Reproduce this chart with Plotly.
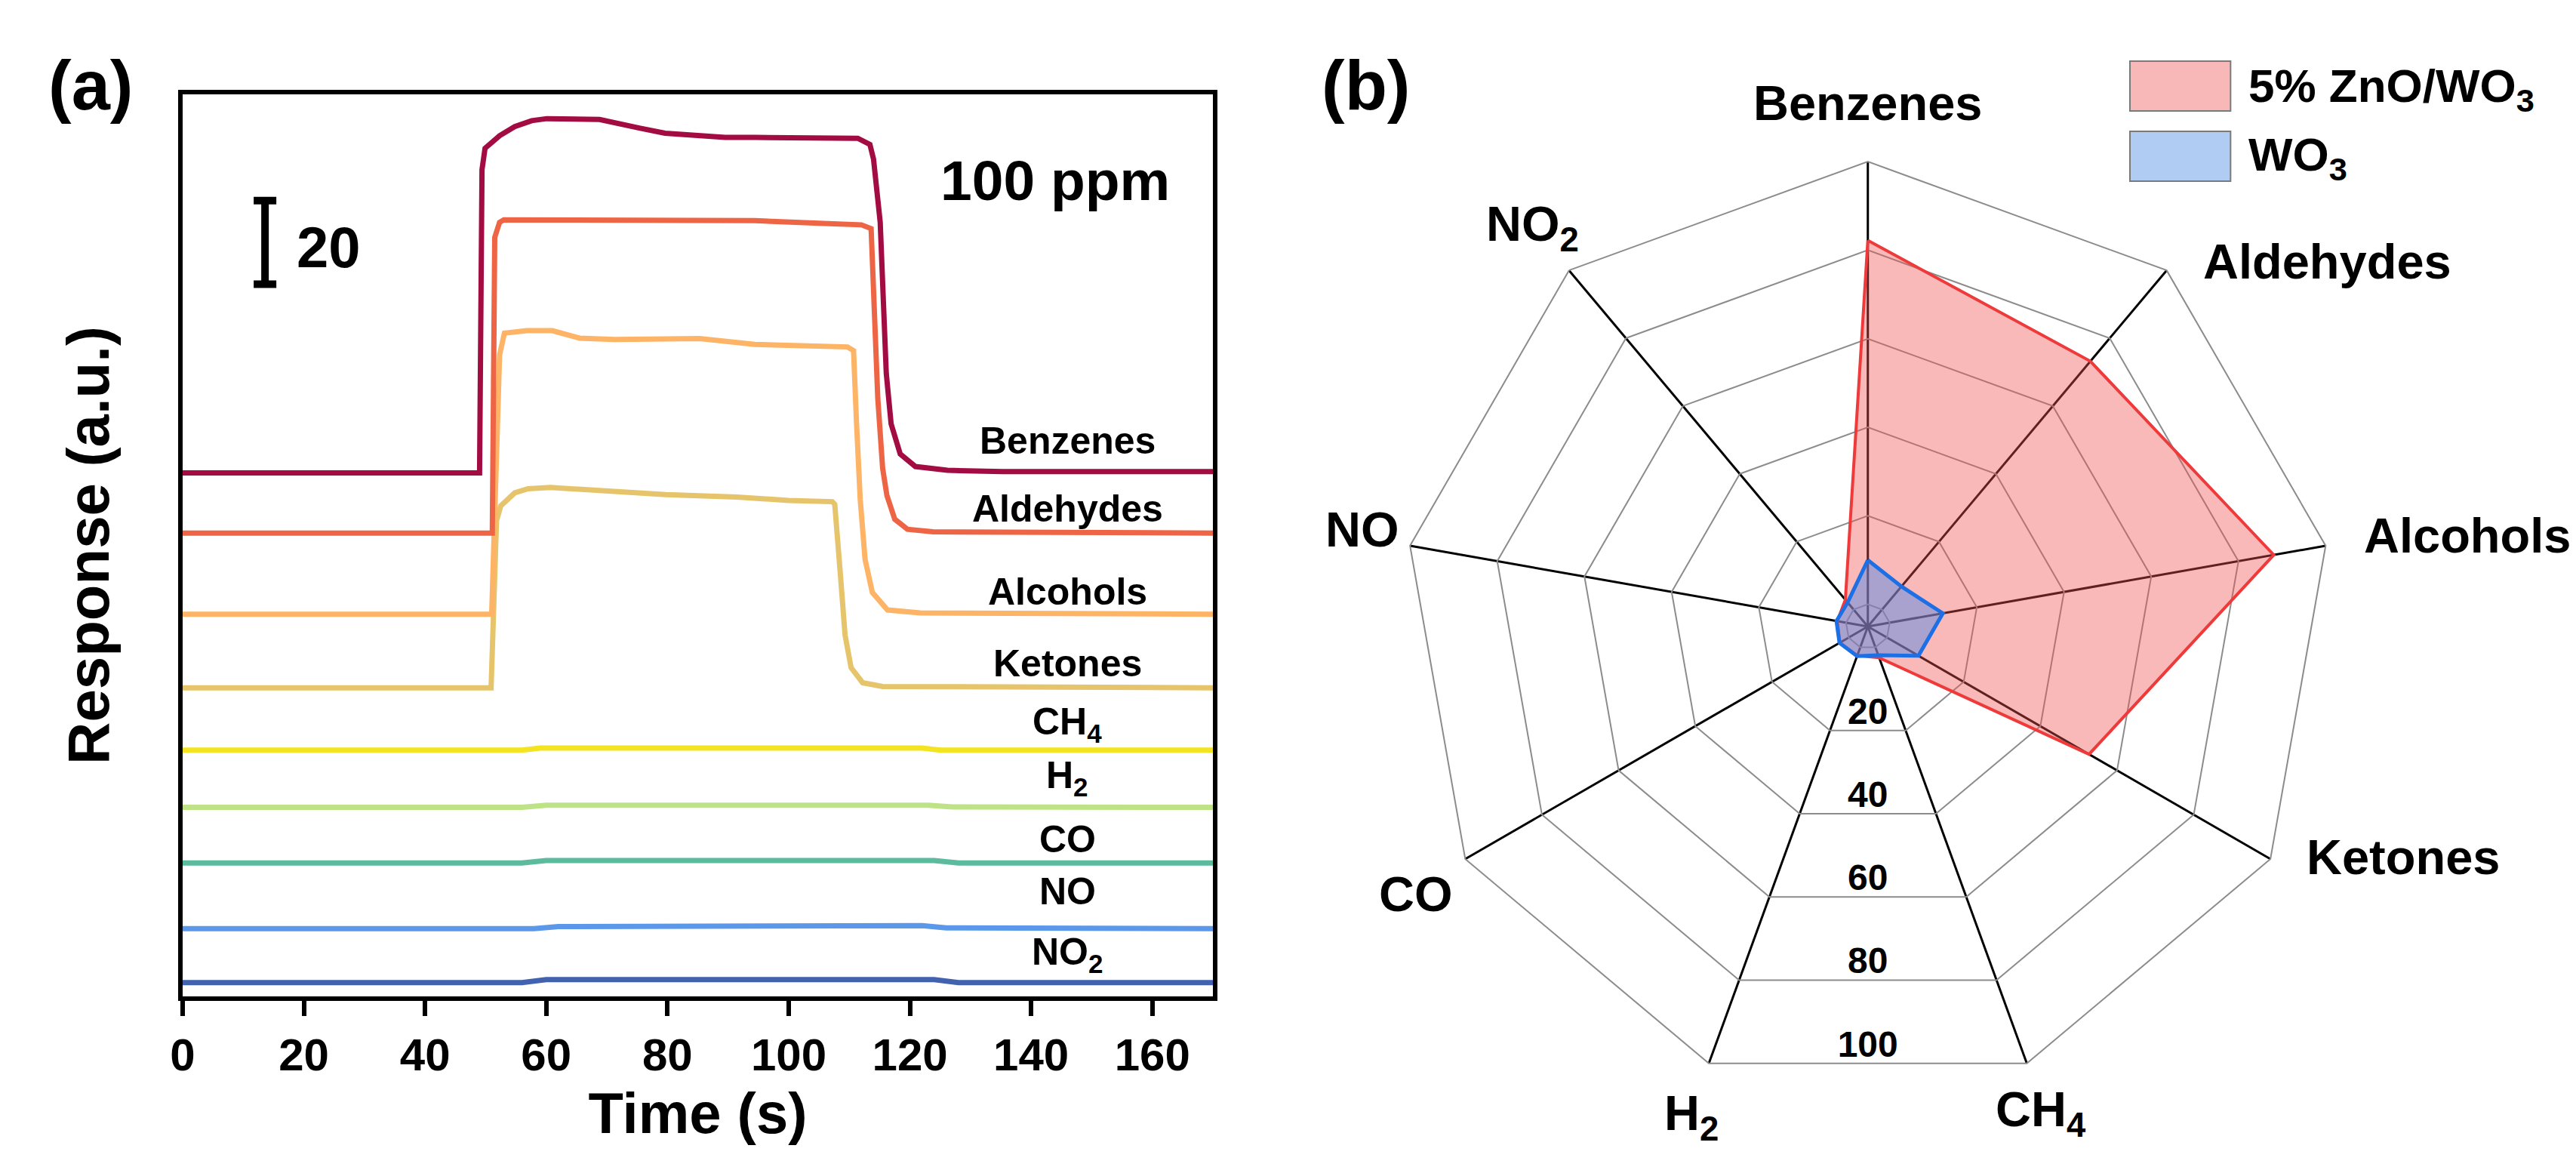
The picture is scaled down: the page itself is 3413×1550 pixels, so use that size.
import math
import plotly.graph_objects as go

W, H = 3413, 1550
FONT = "Liberation Sans, Arial, sans-serif"

# ---------------- panel (a): transient responses ----------------
gas_labels = ["Benzenes", "Aldehydes", "Alcohols", "Ketones", "CH<sub>4</sub>",
              "H<sub>2</sub>", "CO", "NO", "NO<sub>2</sub>"]
gas_colors = ["#A30B43", "#EE6545", "#FDB466", "#E6C46B", "#F4E320",
              "#BEE387", "#5CBB9D", "#5B98EA", "#4262B0"]
stack_offsets = [125.2, 110.8, 91.4, 73.8, 58.9, 45.2, 31.9, 16.2, 3.3]

t_benzenes = [0, 49.0, 49.4, 49.9, 52.3, 54.8, 57.6, 60.1, 68.8, 71.3, 75.5, 79.6, 86.6,
              89.5, 94.4, 111.4, 113.4, 114.0, 115.1, 115.5, 116.1, 116.9, 118.4, 120.9,
              126.2, 135.3, 170]
r_benzenes = [0, 0, 72.5, 77.6, 80.6, 82.8, 84.2, 84.7, 84.5, 83.6, 82.4, 81.2, 80.6,
              80.2, 80.2, 80.0, 78.5, 75.0, 59.9, 41.8, 23.8, 11.7, 4.5, 1.5,
              0.6, 0.3, 0.3]

t_aldehydes = [0, 51.1, 51.5, 52.3, 53.0, 70, 94.4, 105, 112.0, 113.6, 114.0, 114.7,
               115.5, 116.2, 117.5, 119.6, 123.8, 170]
r_aldehydes = [0, 0, 70.7, 74.3, 74.9, 74.9, 74.7, 74.1, 73.7, 72.8, 56.2, 32.2,
               15.5, 9.0, 3.3, 0.9, 0.3, 0]

t_alcohols = [0, 51.0, 52.3, 53.1, 56.8, 61.0, 65.5, 71.3, 85.3, 94.4, 109.7, 110.7,
              111.2, 111.8, 112.6, 113.8, 116.3, 121.7, 170]
r_alcohols = [0, 0, 62.0, 67.2, 67.8, 67.8, 66.0, 65.7, 65.9, 64.5, 63.9, 63.0,
              45.5, 27.5, 13.1, 5.2, 1.0, 0.3, 0]

t_ketones = [0, 50.9, 51.8, 52.5, 54.8, 57.0, 60.7, 67.8, 79.7, 91.5, 100, 107.2, 107.6,
             108.5, 109.3, 110.3, 112.2, 115.5, 170]
r_ketones = [0, 0, 40.0, 43.5, 46.6, 47.6, 47.9, 47.2, 46.2, 45.6, 44.8, 44.5, 43.9,
             27.6, 12.6, 4.8, 1.2, 0.3, 0]

t_ch4 = [0, 56, 59, 122, 125, 170]
r_ch4 = [0, 0, 0.5, 0.5, 0, 0]
t_h2 = [0, 56, 60, 123, 127, 170]
r_h2 = [0, 0, 0.5, 0.5, 0.1, 0]
t_co = [0, 56, 60, 124, 128, 170]
r_co = [0, 0, 0.6, 0.6, 0, 0]
t_no = [0, 58, 62, 122, 126, 152, 170]
r_no = [0, 0, 0.5, 0.7, 0.2, 0, 0]
t_no2 = [0, 56, 60, 124, 128, 170]
r_no2 = [0, 0, 0.7, 0.7, 0, 0]

time_series = [(t_benzenes, r_benzenes), (t_aldehydes, r_aldehydes), (t_alcohols, r_alcohols),
               (t_ketones, r_ketones), (t_ch4, r_ch4), (t_h2, r_h2), (t_co, r_co),
               (t_no, r_no), (t_no2, r_no2)]

x_ticks = [0, 20, 40, 60, 80, 100, 120, 140, 160]
scale_bar_value = 20

# label placement (layout, not data)
label_t = 146
label_lift = [7.7, 5.8, 5.4, 5.8, 6.1, 7.0, 5.6, 8.9, 6.8]

# ---------------- panel (b): radar ----------------
radar_labels = ["Benzenes", "Aldehydes", "Alcohols", "Ketones", "CH<sub>4</sub>",
                "H<sub>2</sub>", "CO", "NO", "NO<sub>2</sub>"]
zno_wo3 = [82.2, 73.2, 88.1, 52.7, 2.5, 2.0, 2.3, 2.0, 2.9]
wo3 = [10.0, 6.8, 12.2, 8.2, 1.9, 2.1, 2.4, 2.2, 2.1]
ring_ticks = [20, 40, 60, 80, 100]
R_MIN, R_MAX = -5, 100

# radar geometry on the page (layout)
CX, CY, RAD = 2462, 822, 619
# placement of the category names around the radar (angle clockwise from top, radius)
cat_label_theta = [0, 51.7, 81.4, 113.2, 160.2, 200.05, 239.5, 280.8, 320.1]
cat_label_r = [112.7, 127.3, 131.9, 126.6, 110.2, 111.2, 113.4, 111.2, 113.1]

fig = go.Figure()

# draw bottom curve first so that Benzenes ends on top
for i in reversed(range(len(time_series))):
    tt, rr = time_series[i]
    fig.add_trace(go.Scatter(
        x=tt, y=[v + stack_offsets[i] for v in rr], mode="lines",
        line=dict(color=gas_colors[i], width=7), showlegend=False,
        xaxis="x", yaxis="y", hoverinfo="skip"))

# scale bar (20 a.u.)
fig.add_trace(go.Scatter(
    x=[13.6], y=[170.3 + scale_bar_value / 2], mode="markers",
    marker=dict(size=1, color="rgba(0,0,0,0)"),
    error_y=dict(type="data", array=[scale_bar_value / 2], color="black",
                 thickness=10, width=15),
    showlegend=False, hoverinfo="skip"))

# radar traces
def closed(a):
    return list(a) + [a[0]]

fig.add_trace(go.Scatterpolar(
    r=closed(zno_wo3), theta=closed(radar_labels), mode="lines", fill="toself",
    fillcolor="rgba(240,80,80,0.40)", line=dict(color="#EE3A3A", width=4),
    name="5% ZnO/WO<sub>3</sub>", showlegend=False, subplot="polar", hoverinfo="skip"))
fig.add_trace(go.Scatterpolar(
    r=closed(wo3), theta=closed(radar_labels), mode="lines", fill="toself",
    fillcolor="rgba(90,140,230,0.50)", line=dict(color="#1D6FE6", width=5),
    name="WO<sub>3</sub>", showlegend=False, subplot="polar", hoverinfo="skip"))

# ring value labels on an overlaid polar (linear angular axis) at the bottom direction
cos20 = math.cos(math.radians(20))
lab_r = [R_MIN + (v - R_MIN) * cos20 - 3.6 for v in ring_ticks]
fig.add_trace(go.Scatterpolar(
    r=lab_r, theta=[180] * len(ring_ticks), mode="text",
    text=[str(v) for v in ring_ticks], textposition="middle center",
    textfont=dict(family=FONT, size=48, color="black", weight="bold"),
    subplot="polar2", showlegend=False, hoverinfo="skip", cliponaxis=False))

# label annotations for panel (a)
annotations = []
for i, lab in enumerate(gas_labels):
    annotations.append(dict(
        x=label_t, y=stack_offsets[i] + label_lift[i], xref="x", yref="y", text=lab,
        showarrow=False, xanchor="center", yanchor="middle",
        font=dict(family=FONT, size=50, color="black", weight="bold")))

# category names around the radar
px_per_unit = RAD / (R_MAX - R_MIN)
for lab, th, rr in zip(radar_labels, cat_label_theta, cat_label_r):
    rho = (rr - R_MIN) * px_per_unit
    xp = CX + rho * math.sin(math.radians(th))
    yp = CY - rho * math.cos(math.radians(th))
    sub_shift = 6 if "<sub>" in lab else 0
    annotations.append(dict(
        x=xp / W, y=1 - (yp + sub_shift) / H, xref="paper", yref="paper", text=lab,
        showarrow=False, xanchor="center", yanchor="middle",
        font=dict(family=FONT, size=65, color="black", weight="bold")))

annotations += [
    dict(x=124.8, y=195.1, xref="x", yref="y", text="100 ppm", showarrow=False,
         xanchor="left", yanchor="middle",
         font=dict(family=FONT, size=75, color="black", weight="bold")),
    dict(x=18.6, y=179.2, xref="x", yref="y", text="20", showarrow=False,
         xanchor="left", yanchor="middle",
         font=dict(family=FONT, size=76, color="black", weight="bold")),
    dict(x=95 / W, y=1 - 105 / H, xref="paper", yref="paper", text="(a)", showarrow=False,
         xanchor="center", yanchor="middle",
         font=dict(family=FONT, size=92, color="black", weight="bold")),
    dict(x=1793 / W, y=1 - 105 / H, xref="paper", yref="paper", text="(b)", showarrow=False,
         xanchor="center", yanchor="middle",
         font=dict(family=FONT, size=92, color="black", weight="bold")),
    dict(x=2967 / W, y=1 - 110 / H, xref="paper", yref="paper",
         text="5% ZnO/WO<sub>3</sub>", showarrow=False, xanchor="left", yanchor="middle",
         font=dict(family=FONT, size=62, color="black", weight="bold")),
    dict(x=2967 / W, y=1 - 201 / H, xref="paper", yref="paper",
         text="WO<sub>3</sub>", showarrow=False, xanchor="left", yanchor="middle",
         font=dict(family=FONT, size=62, color="black", weight="bold")),
]

shapes = [
    dict(type="rect", xref="paper", yref="paper", x0=2811 / W, x1=2945 / W,
         y0=1 - 139 / H, y1=1 - 73 / H, fillcolor="#F8B8B8",
         line=dict(color="#7A7A7A", width=2)),
    dict(type="rect", xref="paper", yref="paper", x0=2811 / W, x1=2945 / W,
         y0=1 - 232 / H, y1=1 - 166 / H, fillcolor="#B1CCF3",
         line=dict(color="#7A7A7A", width=2)),
]

axis_font = dict(family=FONT, size=60, color="black", weight="bold")
dom_x = [(CX - RAD) / W, (CX + RAD) / W]
dom_y = [1 - (CY + RAD) / H, 1 - (CY - RAD) / H]
fig.update_layout(
    width=W, height=H, autosize=False,
    margin=dict(l=0, r=0, t=0, b=0),
    paper_bgcolor="white", plot_bgcolor="white",
    font=dict(family=FONT, color="black", weight="bold"),
    showlegend=False,
    xaxis=dict(domain=[218 / W, 1590 / W], range=[0, 170], tickvals=x_ticks,
               ticks="outside", ticklen=20, tickwidth=6, tickcolor="black",
               showline=True, linewidth=6, linecolor="black", mirror=True,
               showgrid=False, zeroline=False, tickfont=axis_font,
               title=dict(text="Time (s)", standoff=20,
                          font=dict(family=FONT, size=76, color="black", weight="bold"))),
    yaxis=dict(domain=[1 - 1312 / H, 1 - 117 / H], range=[0, 215.7],
               showticklabels=False, ticks="", showline=True, linewidth=6,
               linecolor="black", mirror=True, showgrid=False, zeroline=False,
               title=dict(text="Response (a.u.)", standoff=68,
                          font=dict(family=FONT, size=78, color="black", weight="bold"))),
    polar=dict(
        domain=dict(x=dom_x, y=dom_y),
        bgcolor="white", gridshape="linear",
        angularaxis=dict(type="category", categoryarray=radar_labels,
                         direction="clockwise", rotation=90,
                         showgrid=True, gridcolor="black", gridwidth=3,
                         showline=True, linecolor="#8C8C8C", linewidth=2,
                         ticks="", showticklabels=False),
        radialaxis=dict(range=[R_MIN, R_MAX], tickvals=[0] + ring_ticks,
                        showticklabels=False, ticks="", showline=False,
                        showgrid=True, gridcolor="#8C8C8C", gridwidth=2),
    ),
    polar2=dict(
        domain=dict(x=dom_x, y=dom_y),
        bgcolor="rgba(0,0,0,0)",
        angularaxis=dict(type="linear", thetaunit="degrees", direction="clockwise",
                         rotation=90, visible=False),
        radialaxis=dict(range=[R_MIN, R_MAX], visible=False),
    ),
    annotations=annotations,
    shapes=shapes,
)

fig.write_html("out.html")
